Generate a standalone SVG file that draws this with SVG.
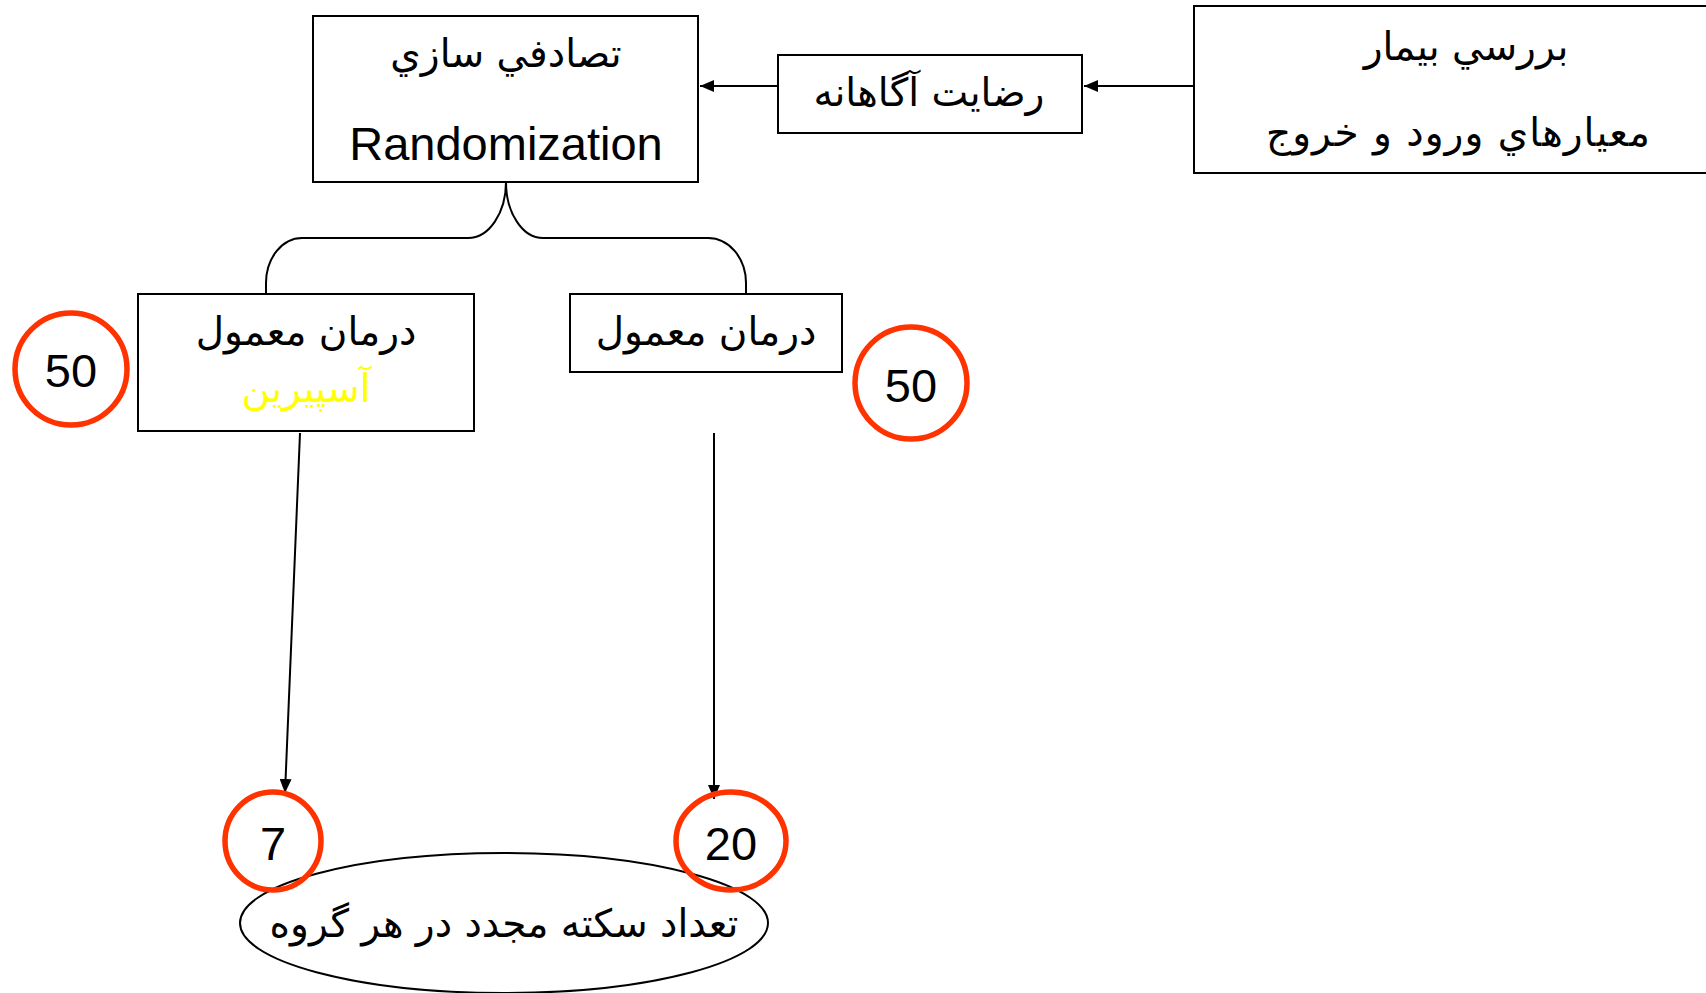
<svg xmlns="http://www.w3.org/2000/svg" width="1706" height="993" viewBox="0 0 1706 993">
  <style>
    .box { fill: #ffffff; stroke: #000000; stroke-width: 2; }
    .ring { fill: none; stroke: #ff3300; stroke-width: 5.5; }
    .link { fill: none; stroke: #000000; stroke-width: 2; }
    .fa { font-family: "DejaVu Sans", "Noto Sans", sans-serif; font-size: 39px; fill: #000000; text-anchor: middle; direction: rtl; unicode-bidi: embed; }
    .lat { font-family: "Liberation Sans", Arial, sans-serif; font-size: 47px; fill: #000000; text-anchor: middle; }
  </style>
  <defs>
    <marker id="arrow" viewBox="0 0 14 12" refX="14" refY="6" markerWidth="14" markerHeight="12" markerUnits="userSpaceOnUse" orient="auto">
      <path d="M0,0 L14,6 L0,12 z" fill="#000000"/>
    </marker>
  </defs>
  <rect width="1706" height="993" fill="#ffffff"/>

  <!-- connectors -->
  <g id="connectors">
    <line class="link" x1="1194" y1="86" x2="1084" y2="86" marker-end="url(#arrow)"/>
    <line class="link" x1="778" y1="86" x2="700" y2="86" marker-end="url(#arrow)"/>
    <path class="link" d="M506,182 A38,56 0 0 1 468,238 L302,238 A36,45 0 0 0 266,283 L266,294"/>
    <path class="link" d="M506,182 A37,56 0 0 0 543,238 L708,238 A38,45 0 0 1 746,283 L746,294"/>
    <line class="link" x1="300" y1="433" x2="285" y2="793" marker-end="url(#arrow)"/>
    <line class="link" x1="714" y1="433" x2="714" y2="799" marker-end="url(#arrow)"/>
  </g>

  <!-- patient screening -->
  <g id="screening">
    <rect class="box" x="1194" y="6" width="530" height="167"/>
    <text class="fa" x="1466" y="60">بررسي بيمار</text>
    <text class="fa" x="1458" y="146" textLength="384" lengthAdjust="spacing">معيارهاي ورود و خروج</text>
  </g>

  <!-- informed consent -->
  <g id="consent">
    <rect class="box" x="778" y="55" width="304" height="78"/>
    <text class="fa" x="929" y="106">رضايت آگاهانه</text>
  </g>

  <!-- randomization -->
  <g id="randomization">
    <rect class="box" x="313" y="16" width="385" height="166"/>
    <text class="fa" x="506" y="67">تصادفي سازي</text>
    <text class="lat" x="506" y="160">Randomization</text>
  </g>

  <!-- aspirin arm -->
  <g id="arm-aspirin">
    <rect class="box" x="138" y="294" width="336" height="137"/>
    <text class="fa" x="306" y="345">درمان معمول</text>
    <text class="fa" x="306" y="402" style="fill:#ffff00">آسپيرين</text>
  </g>

  <!-- control arm -->
  <g id="arm-control">
    <rect class="box" x="570" y="294" width="272" height="78"/>
    <text class="fa" x="706" y="345">درمان معمول</text>
  </g>

  <!-- group sizes -->
  <g id="n-aspirin">
    <circle class="ring" cx="71" cy="369" r="56"/>
    <text class="lat" x="71" y="387">50</text>
  </g>
  <g id="n-control">
    <circle class="ring" cx="911" cy="383" r="56"/>
    <text class="lat" x="911" y="402">50</text>
  </g>

  <!-- outcome -->
  <g id="outcome">
    <ellipse class="box" cx="504" cy="923" rx="264" ry="70"/>
    <text class="fa" x="504" y="937">تعداد سكته مجدد در هر گروه</text>
  </g>

  <!-- recurrent stroke counts -->
  <g id="events-aspirin">
    <ellipse class="ring" cx="273" cy="841" rx="48" ry="49"/>
    <text class="lat" x="273" y="860">7</text>
  </g>
  <g id="events-control">
    <ellipse class="ring" cx="731" cy="841" rx="55" ry="49"/>
    <text class="lat" x="731" y="860">20</text>
  </g>
</svg>
